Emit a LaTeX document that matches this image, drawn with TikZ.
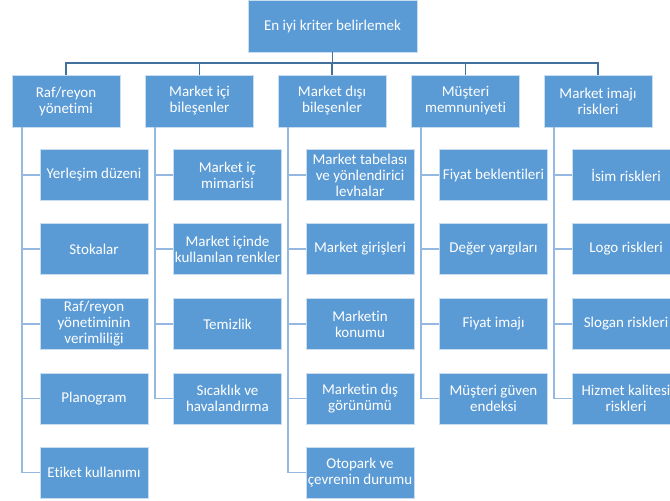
\documentclass[tikz,border=0pt]{standalone}
\usepackage{fontspec}
\setmainfont{Carlito}[Ligatures={NoCommon}]
\begin{document}
\begin{tikzpicture}[x=1pt,y=-1pt,
  box/.style={rectangle, fill=boxfill, draw=boxedge, line width=0.6pt,
    text=white, align=center, inner sep=0pt,
    font=\fontsize{15}{16}\selectfont},
  rootbox/.style={box, minimum width=169pt, minimum height=52pt},
  headbox/.style={box, minimum width=108pt, minimum height=52pt},
  leafbox/.style={box, minimum width=108pt, minimum height=51pt},
  busline/.style={draw=busblue, line width=1.3pt},
  stemline/.style={draw=stemblue, line width=1.6pt}]
\definecolor{boxfill}{HTML}{5B9BD5}
\definecolor{boxedge}{HTML}{C9DDF0}
\definecolor{busblue}{HTML}{41719C}
\definecolor{stemblue}{HTML}{94B8DF}

\useasboundingbox (0,0) rectangle (670,501);
\clip (0,0) rectangle (670,501);

% root
\node[rootbox] (root) at (332.5,26) {En iyi kriter belirlemek};

% category heads
\node[headbox] (h1) at (66,101)    {Raf/reyon\\yönetimi};
\node[headbox] (h2) at (199.5,101) {Market içi\\bileşenler};
\node[headbox] (h3) at (332,101)   {Market dışı\\bileşenler};
\node[headbox] (h4) at (465.5,101) {Müşteri\\memnuniyeti};
\node[headbox] (h5) at (598,101)   {Market imajı\\riskleri};

% bus from root to heads
\coordinate (bus) at (332.5,63);
\draw[busline] (root.south) -- (bus);
\draw[busline] (h1.north) |- (bus) -| (h5.north);
\foreach \h in {h2,h3,h4} \draw[busline] (\h.north) -- (\h.north |- bus);

% leaves, column 1
\node[leafbox] (a1) at (94,175)   {Yerleşim düzeni};
\node[leafbox] (a2) at (94,249)   {Stokalar};
\node[leafbox] (a3) at (94,324)   {Raf/reyon\\yönetiminin\\verimliliği};
\node[leafbox] (a4) at (94,398.5) {Planogram};
\node[leafbox] (a5) at (94,472.5) {Etiket kullanımı};

% leaves, column 2
\node[leafbox] (b1) at (227.5,175)   {Market iç\\mimarisi};
\node[leafbox] (b2) at (227.5,249)   {Market içinde\\kullanılan renkler};
\node[leafbox] (b3) at (227.5,324)   {Temizlik};
\node[leafbox] (b4) at (227.5,398.5) {Sıcaklık ve\\havalandırma};

% leaves, column 3
\node[leafbox] (c1) at (360,175)   {Market tabelası\\ve yönlendirici\\levhalar};
\node[leafbox] (c2) at (360,249)   {Market girişleri};
\node[leafbox] (c3) at (360,324)   {Marketin\\konumu};
\node[leafbox] (c4) at (360,398.5) {Marketin dış\\görünümü};
\node[leafbox] (c5) at (360,472.5) {Otopark ve\\çevrenin durumu};

% leaves, column 4
\node[leafbox] (d1) at (493.5,175)   {Fiyat beklentileri};
\node[leafbox] (d2) at (493.5,249)   {Değer yargıları};
\node[leafbox] (d3) at (493.5,324)   {Fiyat imajı};
\node[leafbox] (d4) at (493.5,398.5) {Müşteri güven\\endeksi};

% leaves, column 5
\node[leafbox] (e1) at (626,175)   {İsim riskleri};
\node[leafbox] (e2) at (626,249)   {Logo riskleri};
\node[leafbox] (e3) at (626,324)   {Slogan riskleri};
\node[leafbox] (e4) at (626,398.5) {Hizmet kalitesi\\riskleri};

% stems from each head down its column
\foreach \h/\last/\kids in {h1/a5/{a1,a2,a3,a4,a5}, h2/b4/{b1,b2,b3,b4},
    h3/c5/{c1,c2,c3,c4,c5}, h4/d4/{d1,d2,d3,d4}, h5/e4/{e1,e2,e3,e4}} {
  \coordinate (top-\h) at ([xshift=10pt]\h.south west);
  \draw[stemline] (top-\h) -- (top-\h |- \last.west);
  \foreach \k in \kids \draw[stemline] (top-\h |- \k.west) -- (\k.west);
}
\end{tikzpicture}
\end{document}
